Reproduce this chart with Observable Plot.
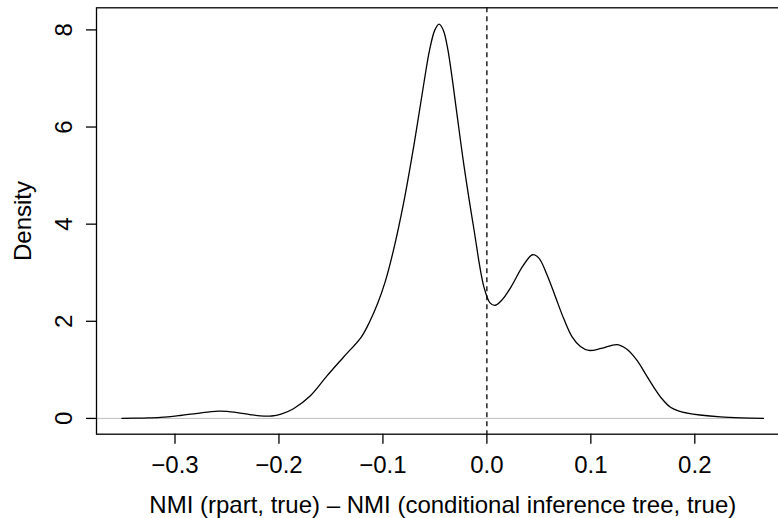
<!DOCTYPE html>
<html>
<head>
<meta charset="utf-8">
<script src="https://cdn.jsdelivr.net/npm/d3@7"></script>
<script src="https://cdn.jsdelivr.net/npm/@observablehq/plot@0.6"></script>
<style>
  html, body { margin: 0; padding: 0; background: #fff; overflow: hidden; }
  #chart svg { display: block; max-width: none !important; }
</style>
</head>
<body>
<div id="chart"></div>
<script>
// Kernel density estimate
const densX = [-0.351, -0.33, -0.314, -0.295, -0.28, -0.265, -0.258, -0.25, -0.24, -0.228, -0.218, -0.207,
  -0.198, -0.186, -0.17, -0.154, -0.138, -0.121, -0.113, -0.105, -0.098, -0.09, -0.08, -0.07, -0.061, -0.055,
  -0.05, -0.046, -0.042, -0.038, -0.034, -0.029, -0.022, -0.0125, -0.003, 0.003, 0.008, 0.015,
  0.023, 0.035, 0.044, 0.05, 0.058, 0.066, 0.074, 0.082, 0.09, 0.098, 0.11, 0.1254, 0.135, 0.1446, 0.153,
  0.1606, 0.1686, 0.1766, 0.185, 0.1927, 0.205, 0.2247, 0.245, 0.266];
const densY = [0.0, 0.008, 0.02, 0.06, 0.1, 0.14, 0.15, 0.145, 0.12, 0.08, 0.052, 0.05,
  0.09, 0.2, 0.46, 0.87, 1.26, 1.67, 1.98, 2.37, 2.8, 3.45, 4.45, 5.65, 6.85, 7.6,
  8.0, 8.12, 8.0, 7.65, 7.1, 6.3, 5.2, 3.9, 2.72, 2.38, 2.33, 2.45,
  2.7, 3.15, 3.37, 3.3, 2.95, 2.5, 2.05, 1.68, 1.48, 1.4, 1.44, 1.52, 1.42, 1.19, 0.9,
  0.64, 0.4, 0.23, 0.15, 0.11, 0.07, 0.03, 0.01, 0.0];

const xTicks = [-0.3, -0.2, -0.1, 0.0, 0.1, 0.2];
const xTickLabels = ["\u22120.3", "\u22120.2", "\u22120.1", "0.0", "0.1", "0.2"];
const yTicks = [0, 2, 4, 6, 8];
const yTickLabels = ["0", "2", "4", "6", "8"];
const xDomain = [-0.3755, 0.2907];
const yDomain = [-0.325, 8.455];
const refLineX = [0];
const xLabel = "NMI (rpart, true) \u2013 NMI (conditional inference tree, true)";
const yLabel = "Density";

const data = densX.map((x, i) => ({x, y: densY[i]}));
const xFmt = new Map(xTicks.map((t, i) => [t, xTickLabels[i]]));

const chart = Plot.plot({
  width: 792,
  height: 518,
  marginLeft: 96,
  marginRight: 3.4,
  marginTop: 7.3,
  marginBottom: 84.3,
  style: {fontFamily: "'Liberation Sans', Arial, Helvetica, sans-serif", fontSize: "24px", background: "#fff", color: "#000", maxWidth: "none"},
  x: {domain: xDomain, axis: null},
  y: {domain: yDomain, axis: null},
  marks: [
    Plot.ruleY([0], {x1: xDomain[0], x2: densX[densX.length - 1], stroke: "#bebebe", strokeWidth: 1}),
    Plot.ruleX(refLineX, {stroke: "#000", strokeWidth: 1.3, strokeDasharray: "5,4"}),
    Plot.line(data, {x: "x", y: "y", curve: "catmull-rom", stroke: "#000", strokeWidth: 1.3}),
    Plot.frame({stroke: "#000", strokeWidth: 1.3}),
    Plot.axisX(xTicks, {tickSize: 10, tickPadding: 12, fontSize: 24, strokeWidth: 1.3,
      tickFormat: d => xFmt.get(d), label: null}),
    Plot.axisY(yTicks, {tickSize: 10, strokeWidth: 1.3, tickFormat: () => "", label: null}),
    Plot.text(yTicks, {y: d => d, text: (d, i) => yTickLabels[i], frameAnchor: "left", dx: -32,
      rotate: -90, fontSize: 24, lineAnchor: "middle", textAnchor: "middle"}),
    Plot.text([xLabel], {text: d => d, frameAnchor: "bottom", dy: 62, lineAnchor: "top", fontSize: 24}),
    Plot.text([yLabel], {text: d => d, frameAnchor: "left", dx: -73, rotate: -90, lineAnchor: "middle",
      textAnchor: "middle", fontSize: 24})
  ]
});
document.getElementById("chart").appendChild(chart);
</script>
</body>
</html>
